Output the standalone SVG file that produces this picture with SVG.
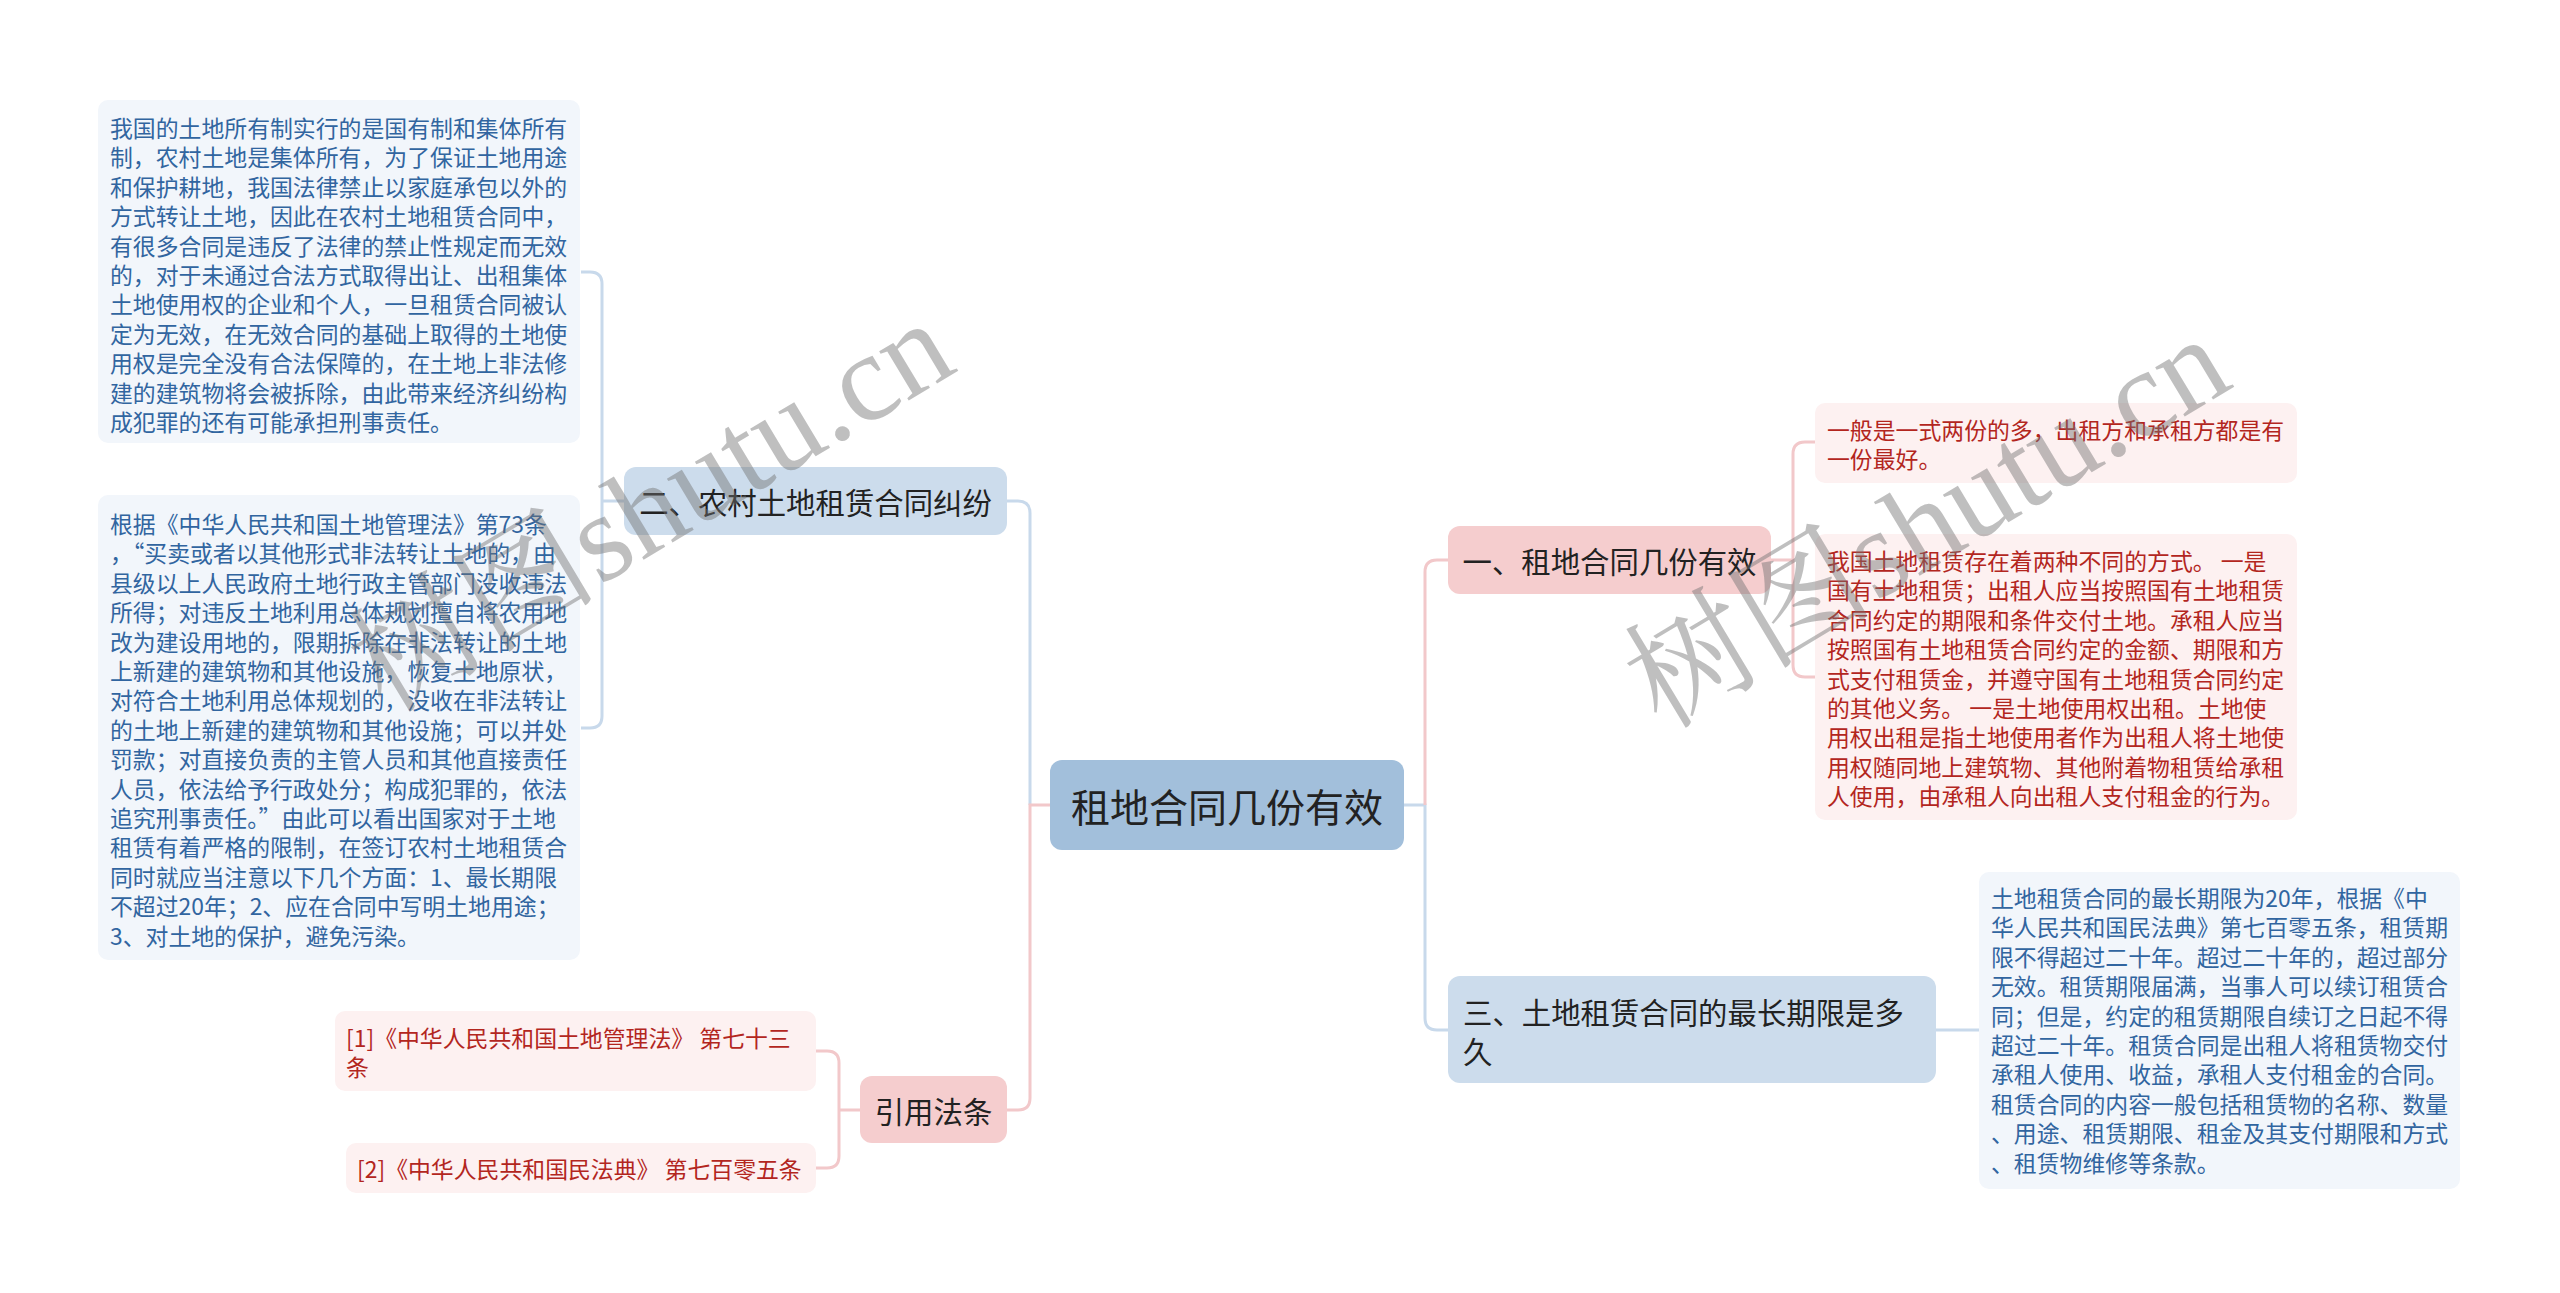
<svg xmlns="http://www.w3.org/2000/svg" width="2560" height="1293" viewBox="0 0 2560 1293">
<style>
text{font-family:"Noto Sans CJK SC","Liberation Sans",sans-serif;dominant-baseline:central}
.center{fill:#a2bfdb}
.bb{fill:#ccdcec}
.pb{fill:#f5cdce}
.bl{fill:#f2f6fb}
.pl{fill:#fdf1f1}
.t1{font-size:39px;fill:#222}
.t2{font-size:29.4px;fill:#222}
.tb{font-size:22.86px;fill:#3165a0}
.tp{font-size:22.86px;fill:#b3261e}
.cb{fill:none;stroke:#c8d9eb;stroke-width:3}
.cp{fill:none;stroke:#f2c8ca;stroke-width:3}
.wm{font-family:"Liberation Serif","Noto Serif CJK SC","Noto Sans CJK SC",serif;font-size:125px;fill:#707070;fill-opacity:0.45;dominant-baseline:alphabetic}
</style>
<rect width="2560" height="1293" fill="#ffffff"/>
<g id="connectors">
<path class="cb" d="M1030,805 V513 Q1030,501 1018,501 H1007"/>
<path class="cp" d="M1050,805 H1030 V1098 Q1030,1110 1018,1110 H1007"/>
<path class="cb" d="M1404,805 H1425 V1018 Q1425,1030 1437,1030 H1448"/>
<path class="cp" d="M1425,805 V572 Q1425,560 1437,560 H1448"/>
<path class="cp" d="M1771,560 H1793 M1815,442 H1805 Q1793,442 1793,454 V665 Q1793,677 1805,677 H1815"/>
<path class="cb" d="M1936,1030 H1979"/>
<path class="cb" d="M624,501 H602 M581,272 H590 Q602,272 602,284 V716 Q602,728 590,728 H581"/>
<path class="cp" d="M860,1110 H839 M816,1051 H827 Q839,1051 839,1063 V1156 Q839,1168 827,1168 H816"/>
</g>
<g id="root">
<rect class="center" x="1050" y="760" width="354" height="90" rx="12"/>
<text class="t1" x="1227" y="805" text-anchor="middle">租地合同几份有效</text>
</g>
<g id="branch1">
<rect class="pb" x="1448" y="526" width="323" height="68" rx="12"/>
<text class="t2" x="1609.5" y="560" text-anchor="middle">一、租地合同几份有效</text>
</g>
<g id="leaf1a">
<rect class="pl" x="1815" y="403" width="482" height="80" rx="10"/>
<text class="tp" x="1827" y="429"><tspan x="1827">一般是一式两份的多，出租方和承租方都是有</tspan><tspan x="1827" dy="29.4">一份最好。</tspan></text>
</g>
<g id="leaf1b">
<rect class="pl" x="1815" y="534" width="482" height="286" rx="10"/>
<text class="tp" x="1827" y="560"><tspan x="1827">我国土地租赁存在着两种不同的方式。 一是</tspan><tspan x="1827" dy="29.4">国有土地租赁；出租人应当按照国有土地租赁</tspan><tspan x="1827" dy="29.4">合同约定的期限和条件交付土地。承租人应当</tspan><tspan x="1827" dy="29.4">按照国有土地租赁合同约定的金额、期限和方</tspan><tspan x="1827" dy="29.4">式支付租赁金，并遵守国有土地租赁合同约定</tspan><tspan x="1827" dy="29.4">的其他义务。 一是土地使用权出租。土地使</tspan><tspan x="1827" dy="29.4">用权出租是指土地使用者作为出租人将土地使</tspan><tspan x="1827" dy="29.4">用权随同地上建筑物、其他附着物租赁给承租</tspan><tspan x="1827" dy="29.4">人使用，由承租人向出租人支付租金的行为。</tspan></text>
</g>
<g id="branch3">
<rect class="bb" x="1448" y="976" width="488" height="107" rx="12"/>
<text class="t2" x="1463" y="1011"><tspan x="1463">三、土地租赁合同的最长期限是多</tspan><tspan x="1463" dy="39">久</tspan></text>
</g>
<g id="leaf3">
<rect class="bl" x="1979" y="872" width="481" height="317" rx="10"/>
<text class="tb" x="1991" y="897"><tspan x="1991">土地租赁合同的最长期限为20年，根据《中</tspan><tspan x="1991" dy="29.4">华人民共和国民法典》第七百零五条，租赁期</tspan><tspan x="1991" dy="29.4">限不得超过二十年。超过二十年的，超过部分</tspan><tspan x="1991" dy="29.4">无效。租赁期限届满，当事人可以续订租赁合</tspan><tspan x="1991" dy="29.4">同；但是，约定的租赁期限自续订之日起不得</tspan><tspan x="1991" dy="29.4">超过二十年。租赁合同是出租人将租赁物交付</tspan><tspan x="1991" dy="29.4">承租人使用、收益，承租人支付租金的合同。</tspan><tspan x="1991" dy="29.4">租赁合同的内容一般包括租赁物的名称、数量</tspan><tspan x="1991" dy="29.4">、用途、租赁期限、租金及其支付期限和方式</tspan><tspan x="1991" dy="29.4">、租赁物维修等条款。</tspan></text>
</g>
<g id="branch2">
<rect class="bb" x="624" y="467" width="383" height="68" rx="12"/>
<text class="t2" x="815.5" y="501" text-anchor="middle">二、农村土地租赁合同纠纷</text>
</g>
<g id="leaf2a">
<rect class="bl" x="98" y="100" width="482" height="343" rx="10"/>
<text class="tb" x="110" y="127"><tspan x="110">我国的土地所有制实行的是国有制和集体所有</tspan><tspan x="110" dy="29.4">制，农村土地是集体所有，为了保证土地用途</tspan><tspan x="110" dy="29.4">和保护耕地，我国法律禁止以家庭承包以外的</tspan><tspan x="110" dy="29.4">方式转让土地，因此在农村土地租赁合同中，</tspan><tspan x="110" dy="29.4">有很多合同是违反了法律的禁止性规定而无效</tspan><tspan x="110" dy="29.4">的，对于未通过合法方式取得出让、出租集体</tspan><tspan x="110" dy="29.4">土地使用权的企业和个人，一旦租赁合同被认</tspan><tspan x="110" dy="29.4">定为无效，在无效合同的基础上取得的土地使</tspan><tspan x="110" dy="29.4">用权是完全没有合法保障的，在土地上非法修</tspan><tspan x="110" dy="29.4">建的建筑物将会被拆除，由此带来经济纠纷构</tspan><tspan x="110" dy="29.4">成犯罪的还有可能承担刑事责任。</tspan></text>
</g>
<g id="leaf2b">
<rect class="bl" x="98" y="495" width="482" height="465" rx="10"/>
<text class="tb" x="110" y="523"><tspan x="110">根据《中华人民共和国土地管理法》第73条</tspan><tspan x="110" dy="29.4">，“买卖或者以其他形式非法转让土地的，由</tspan><tspan x="110" dy="29.4">县级以上人民政府土地行政主管部门没收违法</tspan><tspan x="110" dy="29.4">所得；对违反土地利用总体规划擅自将农用地</tspan><tspan x="110" dy="29.4">改为建设用地的，限期拆除在非法转让的土地</tspan><tspan x="110" dy="29.4">上新建的建筑物和其他设施，恢复土地原状，</tspan><tspan x="110" dy="29.4">对符合土地利用总体规划的，没收在非法转让</tspan><tspan x="110" dy="29.4">的土地上新建的建筑物和其他设施；可以并处</tspan><tspan x="110" dy="29.4">罚款；对直接负责的主管人员和其他直接责任</tspan><tspan x="110" dy="29.4">人员，依法给予行政处分；构成犯罪的，依法</tspan><tspan x="110" dy="29.4">追究刑事责任。”由此可以看出国家对于土地</tspan><tspan x="110" dy="29.4">租赁有着严格的限制，在签订农村土地租赁合</tspan><tspan x="110" dy="29.4">同时就应当注意以下几个方面：1、最长期限</tspan><tspan x="110" dy="29.4">不超过20年；2、应在合同中写明土地用途；</tspan><tspan x="110" dy="29.4">3、对土地的保护，避免污染。</tspan></text>
</g>
<g id="branch4">
<rect class="pb" x="860" y="1076" width="147" height="67" rx="12"/>
<text class="t2" x="933.5" y="1110" text-anchor="middle">引用法条</text>
</g>
<g id="ref1">
<rect class="pl" x="335" y="1011" width="481" height="80" rx="10"/>
<text class="tp" x="346" y="1037"><tspan x="346">[1]《中华人民共和国土地管理法》 第七十三</tspan><tspan x="346" dy="29.4">条</tspan></text>
</g>
<g id="ref2">
<rect class="pl" x="346" y="1143" width="470" height="50" rx="10"/>
<text class="tp" x="357" y="1168">[2]《中华人民共和国民法典》 第七百零五条</text>
</g>
<g id="watermark">
<text class="wm" transform="translate(652,508) rotate(-31)" text-anchor="middle" y="40">树图shutu.cn</text>
<text class="wm" transform="translate(1928,524) rotate(-31)" text-anchor="middle" y="40">树图shutu.cn</text>
</g>
</svg>
